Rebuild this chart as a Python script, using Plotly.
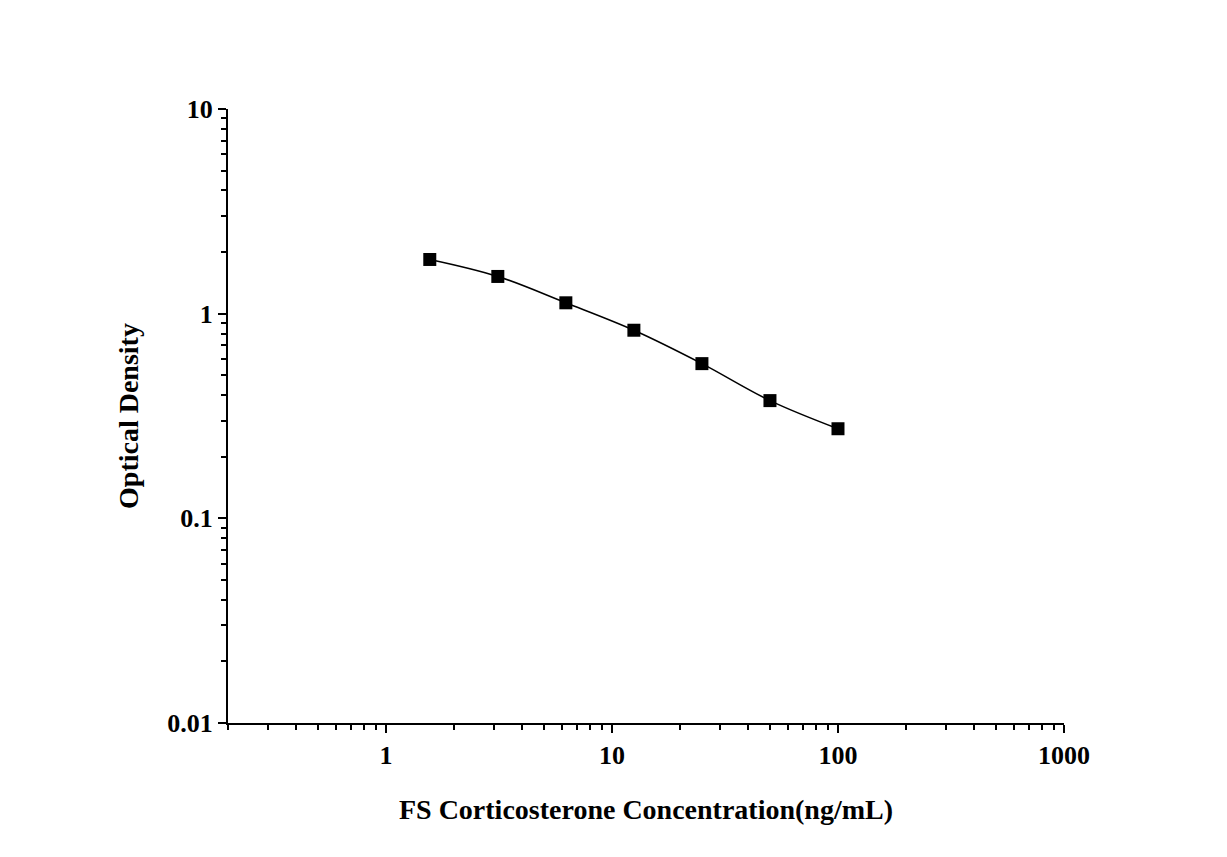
import plotly.graph_objects as go

conc = [1.5625, 3.125, 6.25, 12.5, 25, 50, 100]
od = [1.84, 1.52, 1.13, 0.83, 0.57, 0.376, 0.274]
x_ticks = [1, 10, 100, 1000]
y_ticks = [0.01, 0.1, 1, 10]

# minor ticks at 2..9 of each decade
x_minor = [m * 10 ** e for e in range(-1, 3) for m in range(2, 10)]
y_minor = [m * 10 ** e for e in range(-2, 1) for m in range(2, 10)]

font = dict(family="Liberation Serif", size=28, color="black")

fig = go.Figure(go.Scatter(
    x=conc, y=od, mode="lines+markers",
    line=dict(color="black", width=1.5, shape="spline"),
    marker=dict(symbol="square", size=13, color="black"),
))

axis_style = dict(
    type="log", showline=True, linecolor="black", linewidth=2,
    ticks="outside", ticklen=8, tickwidth=2, tickcolor="black",
    showgrid=False, zeroline=False, mirror=False, automargin=False,
    tickfont=dict(family="Liberation Serif", size=26, color="black"),
)

fig.update_xaxes(range=[-0.699, 3], tickmode="array", tickvals=x_ticks,
                 ticktext=["<b>%s</b>" % v for v in x_ticks],
                 minor=dict(tickmode="array", tickvals=x_minor, ticks="outside", ticklen=5,
                            tickwidth=1.5, tickcolor="black", showgrid=False),
                 title=dict(text="<b>FS Corticosterone Concentration(ng/mL)</b>", font=font, standoff=30),
                 **axis_style)
fig.update_yaxes(range=[-2, 1], tickmode="array", tickvals=y_ticks,
                 ticktext=["<b>%s</b>" % v for v in y_ticks],
                 minor=dict(tickmode="array", tickvals=y_minor, ticks="outside", ticklen=5,
                            tickwidth=1.5, tickcolor="black", showgrid=False),
                 title=dict(text="<b>Optical Density</b>", font=font, standoff=20),
                 **axis_style)

fig.update_layout(
    width=1227, height=857, showlegend=False,
    plot_bgcolor="white", paper_bgcolor="white",
    margin=dict(l=220, r=171, t=101, b=142),
    font=dict(family="Liberation Serif", color="black"),
)

fig.write_html("out.html")
